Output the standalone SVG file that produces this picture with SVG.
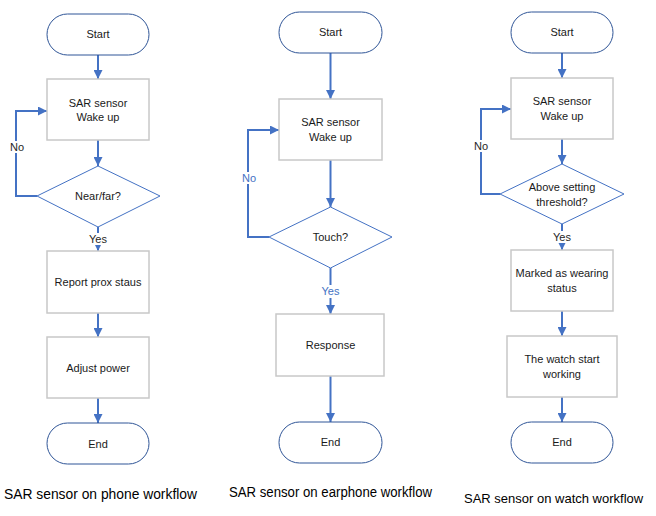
<svg xmlns="http://www.w3.org/2000/svg" width="656" height="516" viewBox="0 0 656 516">
<defs>
<marker id="ah" markerUnits="userSpaceOnUse" markerWidth="9" markerHeight="9" viewBox="0 0 10 10" refX="10" refY="5" orient="auto">
<path d="M0,0 L10,5 L0,10 z" fill="#4472C4"/>
</marker>
<style>
.term{fill:#fff;stroke:#2F5597;stroke-width:1}
.proc{fill:#fff;stroke:#C8C8C8;stroke-width:1.5}
.dec{fill:#fff;stroke:#4472C4;stroke-width:1}
.con{fill:none;stroke:#4472C4;stroke-width:2;marker-end:url(#ah)}
.t{font-family:"Liberation Sans",Arial,sans-serif;font-size:11px;fill:#1a1a1a;text-anchor:middle}
.lbl{font-family:"Liberation Sans",Arial,sans-serif;font-size:11px;fill:#262626;text-anchor:middle}
.blue{fill:#4472C4}
.cap{font-family:"Liberation Sans",Arial,sans-serif;font-size:14px;fill:#000}
.bg{fill:#fff}
</style>
</defs>
<rect width="656" height="516" fill="#fff"/>

<g id="connectors">
<!-- phone -->
<line class="con" x1="98" y1="55" x2="98" y2="79"/>
<line class="con" x1="98" y1="140" x2="98" y2="166"/>
<line class="con" x1="98" y1="227" x2="98" y2="251"/>
<line class="con" x1="98" y1="313" x2="98" y2="337"/>
<line class="con" x1="98" y1="398" x2="98" y2="423"/>
<polyline class="con" points="37,196 16,196 16,111 47,111"/>
<!-- earphone -->
<line class="con" x1="330.5" y1="53" x2="330.5" y2="99"/>
<line class="con" x1="330.5" y1="160" x2="330.5" y2="207"/>
<line class="con" x1="330.5" y1="268" x2="330.5" y2="314"/>
<line class="con" x1="330.5" y1="376" x2="330.5" y2="422"/>
<polyline class="con" points="269,237 248,237 248,130 279,130"/>
<!-- watch -->
<line class="con" x1="562" y1="53" x2="562" y2="78"/>
<line class="con" x1="562" y1="139" x2="562" y2="164"/>
<line class="con" x1="562" y1="224" x2="562" y2="250"/>
<line class="con" x1="562" y1="311" x2="562" y2="336"/>
<line class="con" x1="562" y1="397" x2="562" y2="422"/>
<polyline class="con" points="500,194 481,194 481,109 511,109"/>
<!-- labels -->
<rect class="bg" x="9" y="141" width="16" height="12"/>
<text class="lbl" x="17" y="151">No</text>
<rect class="bg" x="86" y="233" width="24" height="12"/>
<text class="lbl" x="98" y="243">Yes</text>
<rect class="bg" x="240" y="172" width="17" height="12"/>
<text class="lbl blue" x="249" y="182">No</text>
<rect class="bg" x="318" y="285" width="25" height="13"/>
<text class="lbl blue" x="330.5" y="295">Yes</text>
<rect class="bg" x="473" y="140" width="16" height="12"/>
<text class="lbl" x="481" y="150">No</text>
<rect class="bg" x="550" y="231" width="24" height="12"/>
<text class="lbl" x="562" y="241">Yes</text>
</g>

<!-- phone nodes -->
<g id="p_start"><rect class="term" x="47" y="14" width="102" height="41" rx="20.5"/><text class="t" x="98" y="38">Start</text></g>
<g id="p_wake"><rect class="proc" x="47" y="79" width="102" height="61"/><text class="t" x="98" y="107">SAR sensor</text><text class="t" x="98" y="121">Wake up</text></g>
<g id="p_dec"><polygon class="dec" points="98,166 160,196 98,227 37,196"/><text class="t" x="98" y="200">Near/far?</text></g>
<g id="p_report"><rect class="proc" x="47" y="251" width="102" height="62"/><text class="t" x="98" y="286">Report prox staus</text></g>
<g id="p_adjust"><rect class="proc" x="47" y="337" width="102" height="61"/><text class="t" x="98" y="372">Adjust power</text></g>
<g id="p_end"><rect class="term" x="47" y="423" width="102" height="41" rx="20.5"/><text class="t" x="98" y="448">End</text></g>

<!-- earphone nodes -->
<g id="e_start"><rect class="term" x="279" y="12" width="103" height="41" rx="20.5"/><text class="t" x="330.5" y="36">Start</text></g>
<g id="e_wake"><rect class="proc" x="279" y="99" width="103" height="61"/><text class="t" x="330.5" y="126">SAR sensor</text><text class="t" x="330.5" y="141">Wake up</text></g>
<g id="e_dec"><polygon class="dec" points="330.5,207 392,237 330.5,268 269,237"/><text class="t" x="330.5" y="241">Touch?</text></g>
<g id="e_resp"><rect class="proc" x="276" y="314" width="108" height="62"/><text class="t" x="330.5" y="349">Response</text></g>
<g id="e_end"><rect class="term" x="279" y="422" width="103" height="41" rx="20.5"/><text class="t" x="330.5" y="446">End</text></g>

<!-- watch nodes -->
<g id="w_start"><rect class="term" x="511" y="12" width="102" height="41" rx="20.5"/><text class="t" x="562" y="36">Start</text></g>
<g id="w_wake"><rect class="proc" x="511" y="78" width="102" height="61"/><text class="t" x="562" y="105">SAR sensor</text><text class="t" x="562" y="120">Wake up</text></g>
<g id="w_dec"><polygon class="dec" points="562,164 624,194 562,224 500,194"/><text class="t" x="562" y="191">Above setting</text><text class="t" x="562" y="206">threshold?</text></g>
<g id="w_mark"><rect class="proc" x="511" y="250" width="102" height="61"/><text class="t" x="562" y="277">Marked as wearing</text><text class="t" x="562" y="292">status</text></g>
<g id="w_work"><rect class="proc" x="507" y="336" width="110" height="61"/><text class="t" x="562" y="363">The watch start</text><text class="t" x="562" y="378">working</text></g>
<g id="w_end"><rect class="term" x="511" y="422" width="102" height="41" rx="20.5"/><text class="t" x="562" y="446">End</text></g>

<g id="captions">
<text class="cap" x="4" y="499" textLength="193" lengthAdjust="spacingAndGlyphs">SAR sensor on phone workflow</text>
<text class="cap" x="229" y="497" textLength="203" lengthAdjust="spacingAndGlyphs">SAR sensor on earphone workflow</text>
<text class="cap" x="464" y="503" style="font-size:13px">SAR sensor on watch workflow</text>
</g>
</svg>
